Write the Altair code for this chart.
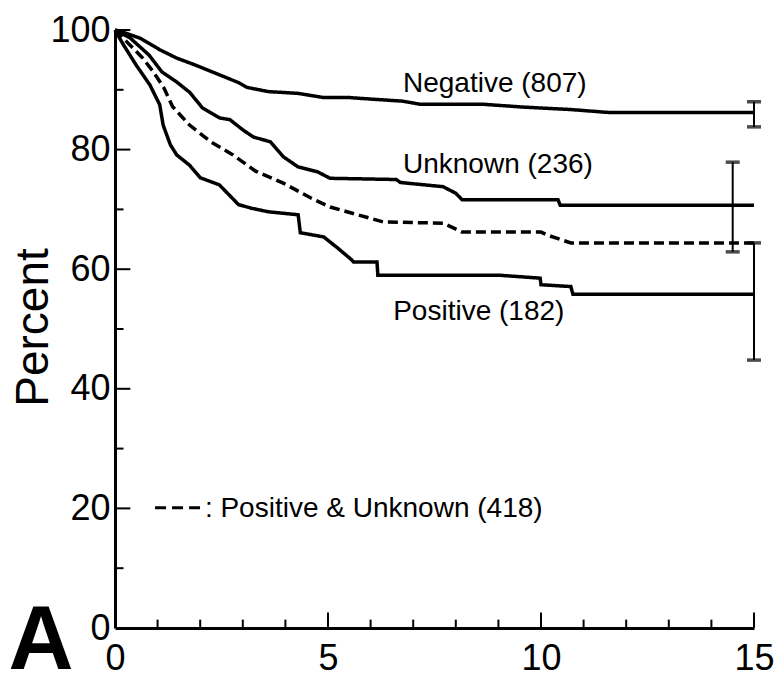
import altair as alt
import pandas as pd

# ---- Kaplan-Meier curves (years, percent) ----
neg_t = [0, 0.12, 0.6, 1.05, 1.45, 1.9, 2.45, 2.9, 3.1, 3.6, 4.3, 4.9, 5.5, 5.9, 6.75, 7.15, 8.6, 9.6, 10.7, 11.6, 15]
neg_p = [100, 99.8, 98.6, 96.7, 95.3, 94.1, 92.5, 91.2, 90.4, 89.7, 89.4, 88.7, 88.7, 88.5, 88.1, 87.6, 87.6, 87.1, 86.7, 86.2, 86.2]

unk_t = [0, 0.35, 0.8, 1.1, 1.45, 1.75, 2.05, 2.45, 2.7, 3.0, 3.25, 3.65, 3.95, 4.3, 4.75, 5.05, 6.6, 6.7, 7.7, 8.0, 8.15, 10.4, 10.45, 15]
unk_p = [100, 98.7, 95.8, 93.0, 91.3, 89.6, 87.0, 85.3, 85.0, 83.3, 82.1, 81.3, 78.8, 77.1, 76.3, 75.2, 75.0, 74.5, 73.8, 72.7, 71.6, 71.6, 70.7, 70.7]

pu_t = [0, 0.35, 0.65, 0.9, 1.15, 1.35, 1.75, 2.25, 2.75, 3.3, 3.95, 4.6, 5.05, 5.7, 6.3, 7.7, 8.15, 10.0, 10.15, 10.7, 15]
pu_p = [100, 97.5, 95.3, 93.0, 90.3, 87.2, 84.1, 81.3, 79.2, 76.4, 74.4, 71.9, 70.4, 69.1, 67.9, 67.7, 66.2, 66.2, 65.7, 64.4, 64.4]

pos_t = [0, 0.2, 0.5, 0.82, 1.05, 1.13, 1.3, 1.45, 1.75, 2.0, 2.45, 2.9, 3.2, 3.6, 4.3, 4.35, 4.9, 5.2, 5.55, 5.6, 6.15, 6.17, 9.0, 9.98, 10.0, 10.7, 10.75, 15]
pos_p = [100, 97.5, 94.1, 90.8, 87.5, 84.1, 80.8, 79.1, 77.4, 75.3, 74.1, 70.8, 70.2, 69.6, 69.1, 66.1, 65.4, 63.7, 61.6, 61.2, 61.2, 59.0, 59.0, 58.5, 57.4, 57.1, 55.8, 55.8]

series_names = ["Negative", "Unknown", "Positive & Unknown", "Positive"]

# ---- confidence bars at the end of follow-up ----
err_x = [15, 14.5, 15]
err_lo = [83.8, 62.9, 44.8]
err_hi = [88.0, 77.9, 64.4]

# ---- curve labels ----
lab_text = ["Negative (807)", "Unknown (236)", "Positive (182)"]
lab_x = [6.76, 6.76, 6.53]
lab_y = [89.6, 76.1, 51.5]

legend_text = [": Positive & Unknown (418)"]
legend_x = [2.11]
legend_y = [18.6]
legend_dash_x = [0.94]
legend_dash_x2 = [2.0]
legend_dash_y = [20.1]

# ---- axis ticks ----
x_labels = [0, 5, 10, 15]
y_labels = [0, 20, 40, 60, 80, 100]
x_major = [5, 10, 15]
x_minor = [1, 2, 3, 4, 6, 7, 8, 9, 11, 12, 13, 14]
y_major = [20, 40, 60, 80, 100]
y_minor = [10, 30, 50, 70, 90]

FONT = "Liberation Sans"

xscale = alt.Scale(domain=[0, 15], nice=False)
yscale = alt.Scale(domain=[0, 100], nice=False)
xaxis = alt.Axis(values=x_labels, title="", labelPadding=13, labelFlush=False)
yaxis = alt.Axis(values=y_labels, title="Percent", labelPadding=5,
                 titleX=-68, titleY=297, titleBaseline="alphabetic", titleAngle=270)


def X(field):
    return alt.X(field, scale=xscale, axis=xaxis)


def Y(field):
    return alt.Y(field, scale=yscale, axis=yaxis)


rows = []
for name, ts, ps in zip(series_names, [neg_t, unk_t, pu_t, pos_t], [neg_p, unk_p, pu_p, pos_p]):
    for i, (t, p) in enumerate(zip(ts, ps)):
        rows.append({"series": name, "t": t, "pct": p, "i": i})
curves = pd.DataFrame(rows)

lines = alt.Chart(curves).mark_line(color="black", strokeWidth=3.5).encode(
    x=X("t:Q"),
    y=Y("pct:Q"),
    detail="series:N",
    order="i:Q",
    strokeDash=alt.StrokeDash("series:N", legend=None,
                              scale=alt.Scale(domain=series_names,
                                              range=[[1, 0], [1, 0], [10, 5], [1, 0]])),
)

err = pd.DataFrame({"x": err_x, "lo": err_lo, "hi": err_hi})
err_rule = alt.Chart(err).mark_rule(color="black", strokeWidth=2).encode(
    x=X("x:Q"), y=Y("lo:Q"), y2="hi:Q")
cap_lo = alt.Chart(err).mark_tick(color="black", orient="horizontal", size=14, thickness=3.5).encode(
    x=X("x:Q"), y=Y("lo:Q"))
cap_hi = alt.Chart(err).mark_tick(color="black", orient="horizontal", size=14, thickness=3.5).encode(
    x=X("x:Q"), y=Y("hi:Q"))

labs = pd.DataFrame({"text": lab_text, "x": lab_x, "y": lab_y})
lab_layer = alt.Chart(labs).mark_text(align="left", baseline="alphabetic", font=FONT,
                                      fontSize=28, color="black").encode(
    x=X("x:Q"), y=Y("y:Q"), text="text:N")

leg = pd.DataFrame({"text": legend_text, "x": legend_x, "y": legend_y})
leg_text = alt.Chart(leg).mark_text(align="left", baseline="alphabetic", font=FONT,
                                    fontSize=28, color="black").encode(
    x=X("x:Q"), y=Y("y:Q"), text="text:N")
legd = pd.DataFrame({"x": legend_dash_x, "x2": legend_dash_x2, "y": legend_dash_y})
leg_dash = alt.Chart(legd).mark_rule(color="black", strokeWidth=3, strokeDash=[11, 6]).encode(
    x=X("x:Q"), x2="x2:Q", y=Y("y:Q"))

xmaj = alt.Chart(pd.DataFrame({"tick": x_major})).mark_rule(color="black", strokeWidth=2).encode(
    x=X("tick:Q"), y=alt.Y(datum=0, scale=yscale, axis=yaxis), y2=alt.Y2(datum=2.6))
xmin = alt.Chart(pd.DataFrame({"tick": x_minor})).mark_rule(color="black", strokeWidth=2).encode(
    x=X("tick:Q"), y=alt.Y(datum=0, scale=yscale, axis=yaxis), y2=alt.Y2(datum=1.4))
ymaj = alt.Chart(pd.DataFrame({"tick": y_major})).mark_rule(color="black", strokeWidth=2).encode(
    y=Y("tick:Q"), x=alt.X(datum=0, scale=xscale, axis=xaxis), x2=alt.X2(datum=0.36))
ymin = alt.Chart(pd.DataFrame({"tick": y_minor})).mark_rule(color="black", strokeWidth=2).encode(
    y=Y("tick:Q"), x=alt.X(datum=0, scale=xscale, axis=xaxis), x2=alt.X2(datum=0.2))

panel = alt.Chart(pd.DataFrame({"text": ["A"]})).mark_text(
    align="center", baseline="alphabetic", font=FONT, fontSize=90, fontWeight="bold",
    color="black", dx=-74, dy=41).encode(
    x=alt.X(datum=0, scale=xscale, axis=xaxis), y=alt.Y(datum=0, scale=yscale, axis=yaxis),
    text="text:N")

chart = alt.layer(
    xmin, xmaj, ymin, ymaj, lines, err_rule, cap_lo, cap_hi, lab_layer, leg_dash, leg_text, panel
).properties(
    width=639, height=598,
    autosize=alt.AutoSizeParams(type="none"),
    padding={"left": 115, "top": 30, "right": 22, "bottom": 49},
).configure_view(stroke=None).configure_axis(
    grid=False, domainColor="black", domainWidth=3, ticks=False, tickSize=0,
    labelFont=FONT, labelFontSize=36, labelColor="black",
    titleFont=FONT, titleFontSize=46, titleFontWeight="normal", titleColor="black",
)

chart.save("out.html", embed_options={"renderer": "svg", "actions": False})
